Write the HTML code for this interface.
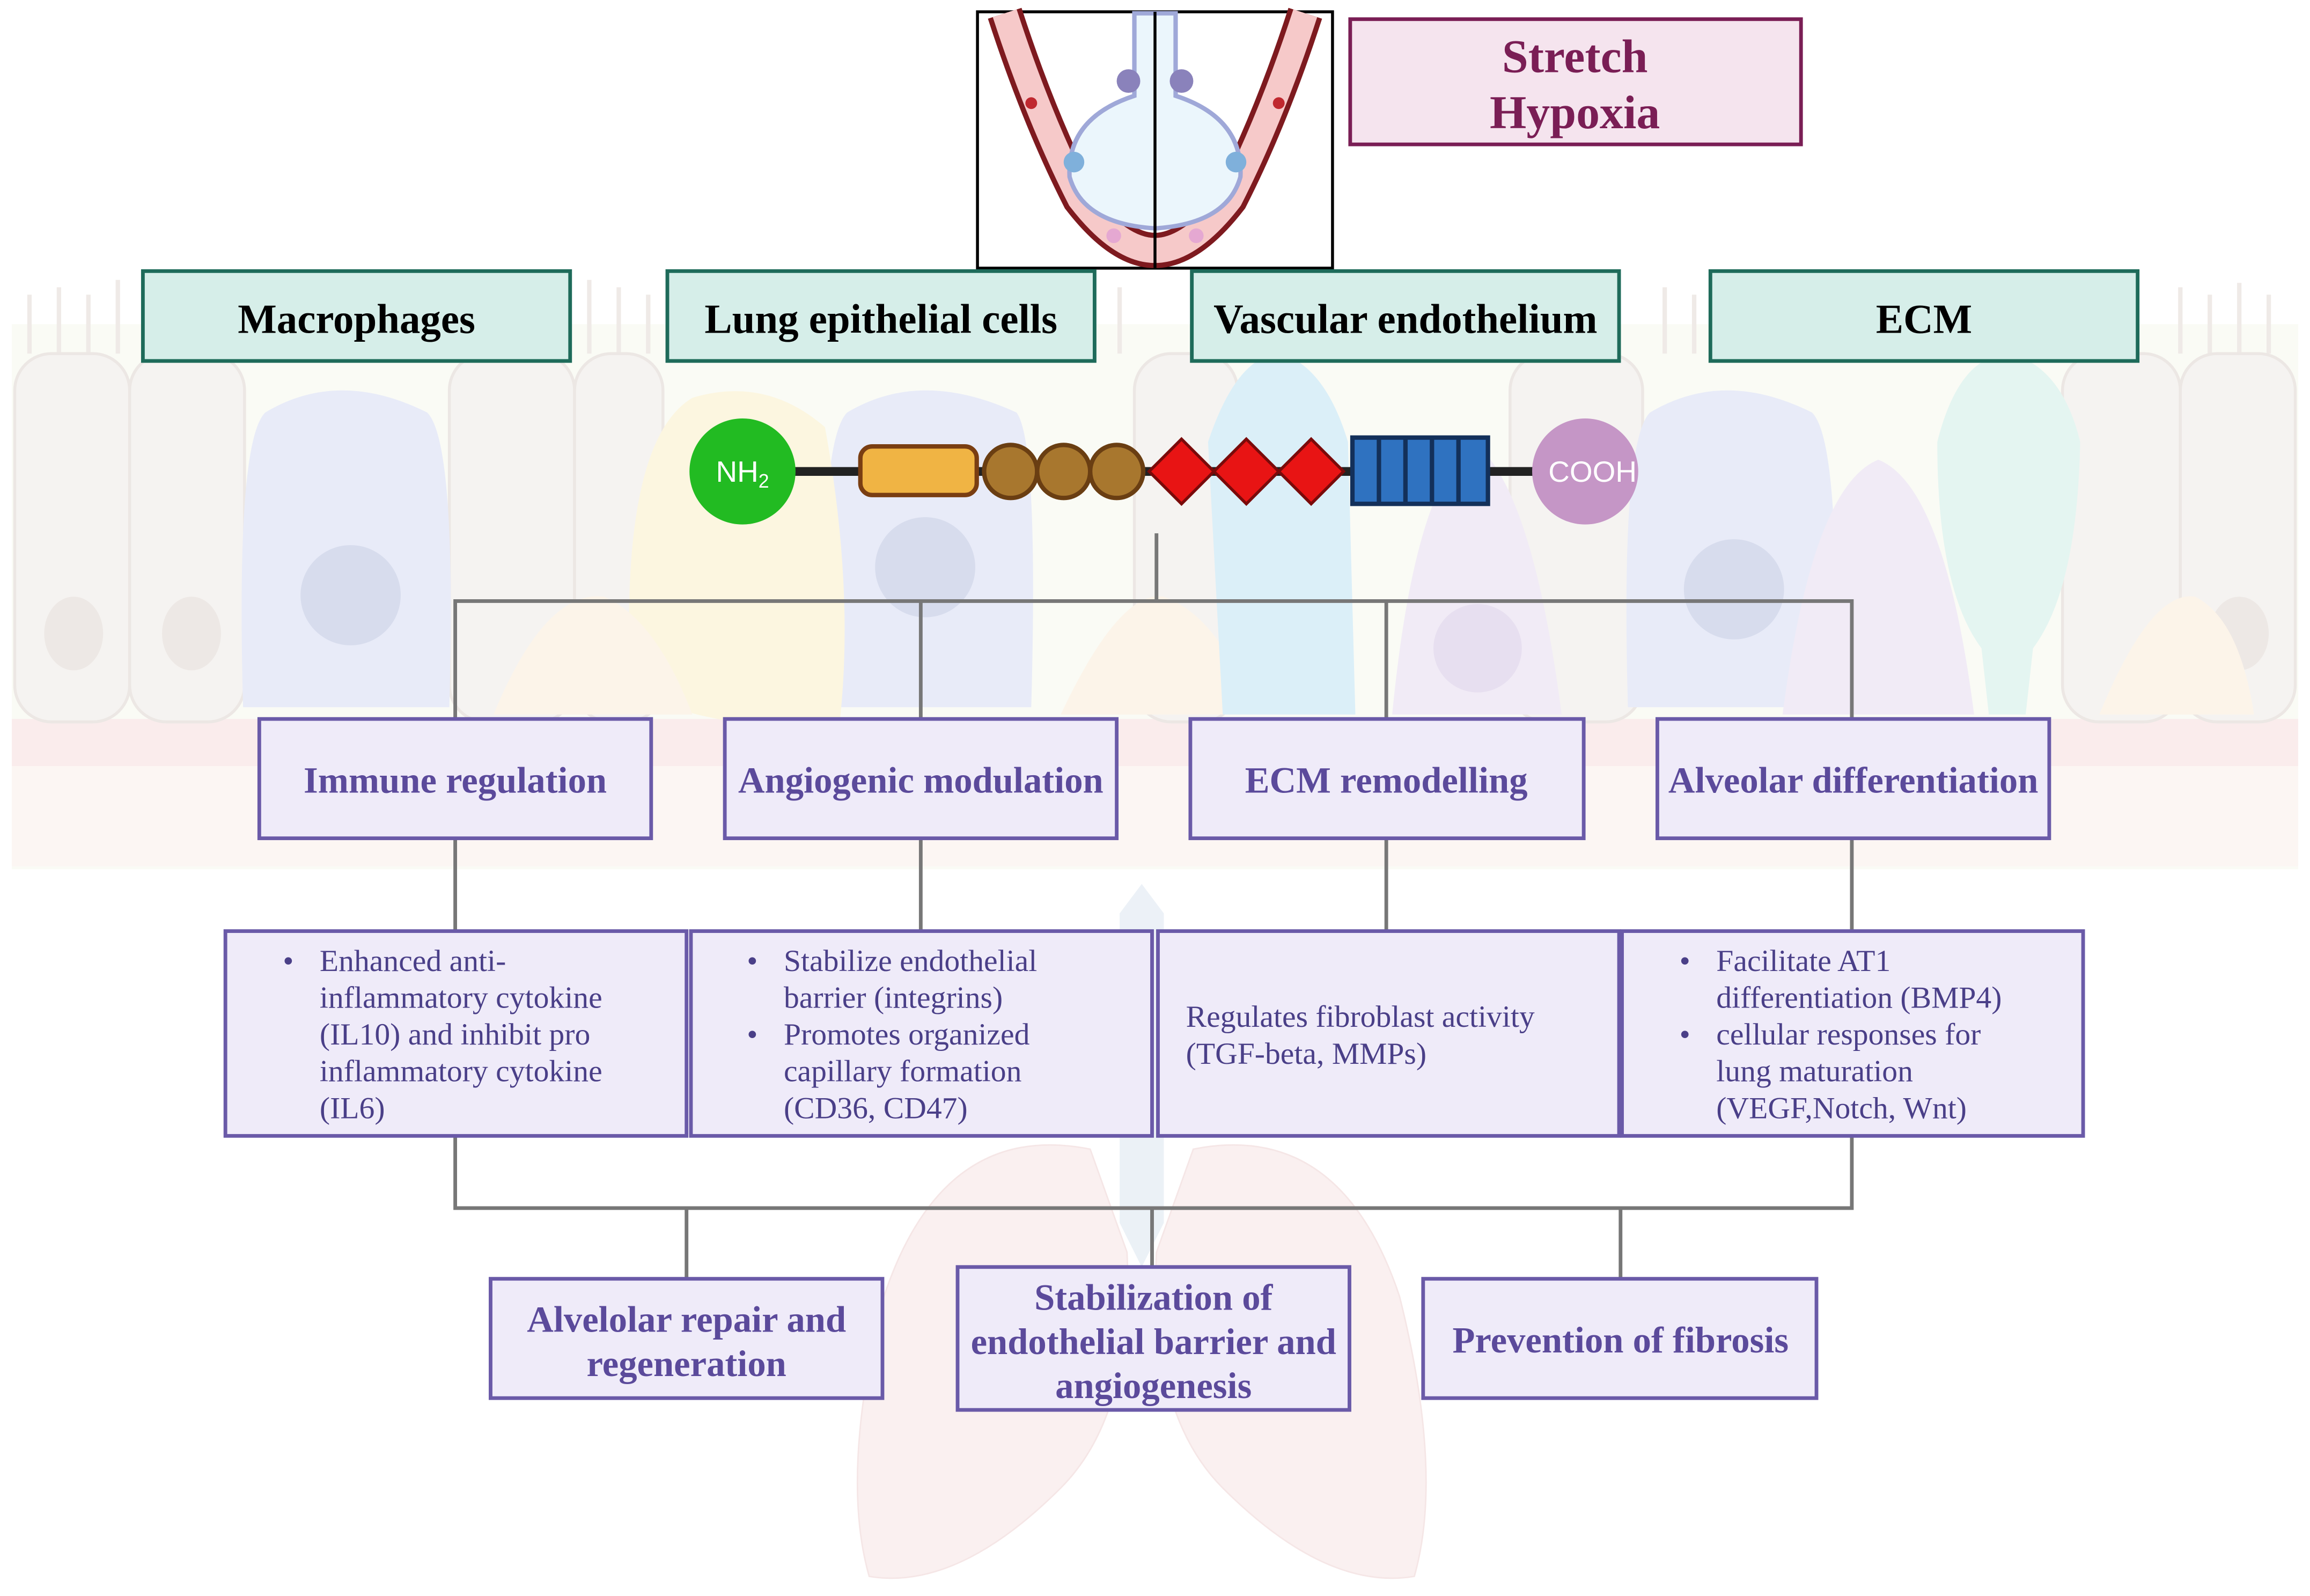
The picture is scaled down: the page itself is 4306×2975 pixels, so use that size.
<!DOCTYPE html>
<html><head><meta charset="utf-8"><style>
html,body{margin:0;padding:0;background:#fff}
svg{display:block}
text{font-family:"Liberation Serif",serif}
</style></head><body>
<svg width="4306" height="2975" viewBox="0 0 1568 1083.3" xmlns="http://www.w3.org/2000/svg">
<rect width="1568" height="1084" fill="#fff"/>
<g opacity="0.55">
<rect x="8" y="220" width="1552" height="370" fill="#f6f8ee"/>
<rect x="8" y="488" width="1552" height="32" fill="#f7dede"/>
<rect x="8" y="520" width="1552" height="68" fill="#fbf0ea"/>
<g stroke="#e2dad4" stroke-width="3" fill="none">
<path d="M20 240v-40M40 240v-45M60 240v-40M80 240v-50M110 240v-45M130 240v-40M400 240v-50M420 240v-45M440 240v-40M1130 240v-45M1150 240v-40M1480 240v-45M1500 240v-40M1520 240v-48M1540 240v-40M620 240v-45M640 240v-40M680 240v-48M700 240v-40M740 240v-40M760 240v-45M1020 240v-40M1060 240v-45"/>
</g>
<g fill="#eeeae6" stroke="#ddd5cf" stroke-width="2">
<rect x="10" y="240" width="78" height="250" rx="25"/>
<rect x="88" y="240" width="78" height="250" rx="25"/>
<rect x="305" y="240" width="85" height="250" rx="25"/>
<rect x="390" y="240" width="60" height="250" rx="25"/>
<rect x="770" y="240" width="70" height="250" rx="25"/>
<rect x="1025" y="240" width="90" height="250" rx="25"/>
<rect x="1400" y="240" width="80" height="250" rx="25"/>
<rect x="1480" y="240" width="78" height="250" rx="25"/>
</g>
<g fill="#e0d6d0"><ellipse cx="50" cy="430" rx="20" ry="25"/><ellipse cx="130" cy="430" rx="20" ry="25"/><ellipse cx="1520" cy="430" rx="20" ry="25"/></g>
<path d="M165 480 Q160 300 180 280 Q230 250 290 280 Q310 300 305 480Z" fill="#d6dcf3"/>
<circle cx="238" cy="404" r="34" fill="#b8c0e0"/>
<path d="M1105 480 Q1100 300 1120 280 Q1170 250 1230 280 Q1250 300 1245 480Z" fill="#d6dcf3"/>
<circle cx="1177" cy="400" r="34" fill="#b8c0e0"/>
<path d="M560 480 Q555 300 575 280 Q625 250 690 280 Q705 300 700 480Z" fill="#d6dcf3"/>
<circle cx="628" cy="385" r="34" fill="#b8c0e0"/>
<path d="M428 470 Q420 300 470 270 Q520 255 560 290 Q580 400 570 490 Q500 500 428 470Z" fill="#fbf0c8"/>
<path d="M335 485 Q370 400 410 405 Q445 420 470 485Z" fill="#fbecd8"/>
<path d="M720 485 Q760 400 790 405 Q830 420 850 485Z" fill="#fbecd8"/>
<path d="M1425 485 Q1460 400 1490 405 Q1520 420 1530 485Z" fill="#fbecd8"/>
<path d="M945 485 Q960 330 1000 300 Q1040 330 1060 485Z" fill="#e6dcef"/>
<circle cx="1003" cy="440" r="30" fill="#d4c6e4"/>
<path d="M1210 485 Q1230 330 1275 312 Q1320 330 1340 485Z" fill="#e6dcef"/>
<path d="M820 300 Q840 240 870 240 Q900 250 915 300 L920 485 L830 485Z" fill="#bfe2f3"/>
<path d="M1315 300 Q1330 240 1365 240 Q1400 250 1412 300 Q1410 400 1380 440 L1375 485 L1350 485 L1345 440 Q1315 400 1315 300Z" fill="#cfeee6"/>
</g>
<g opacity="0.35">
<path d="M760 620 L775 600 L790 620 L790 830 L775 860 L760 830Z" fill="#c8d8e8"/>
<path d="M740 780 Q640 760 600 880 Q570 1000 590 1070 Q650 1080 720 1010 Q770 960 765 850Z" fill="#f2d6d6" stroke="#e4b8b8"/>
<path d="M810 780 Q910 760 950 880 Q980 1000 960 1070 Q900 1080 830 1010 Q780 960 785 850Z" fill="#f2d6d6" stroke="#e4b8b8"/>
</g>
<rect x="663.5" y="8" width="241" height="174" fill="#fff" stroke="#000" stroke-width="2"/>
<path d="M682 9 Q705 80 733 135 Q760 170 784 170 Q808 170 835 135 Q863 80 886 9" fill="none" stroke="#7e1a1f" stroke-width="24"/>
<path d="M682 9 Q705 80 733 135 Q760 170 784 170 Q808 170 835 135 Q863 80 886 9" fill="none" stroke="#f6c9c9" stroke-width="17"/>
<path d="M770 9 L770 65 Q724 80 726 120 Q735 152 784 155 Q833 152 842 120 Q844 80 798 65 L798 9Z" fill="#ebf6fc" stroke="#9fa8d8" stroke-width="3"/>
<circle cx="766" cy="55" r="8" fill="#8a82bb"/><circle cx="802" cy="55" r="8" fill="#8a82bb"/>
<circle cx="729" cy="110" r="7" fill="#7fb0db"/><circle cx="839" cy="110" r="7" fill="#7fb0db"/>
<circle cx="756" cy="160" r="5" fill="#e5a8d2"/><circle cx="812" cy="160" r="5" fill="#e5a8d2"/>
<circle cx="700" cy="70" r="4" fill="#c0282f"/><circle cx="868" cy="70" r="4" fill="#c0282f"/>
<line x1="784" y1="8" x2="784" y2="182" stroke="#000" stroke-width="2"/>
<rect x="916.5" y="13" width="306" height="85" fill="#f5e4ee" stroke="#7a1e55" stroke-width="2.5"/>
<text x="1069" y="49" font-size="32" font-weight="bold" fill="#7a1e55" text-anchor="middle">Stretch</text>
<text x="1069" y="87" font-size="32" font-weight="bold" fill="#7a1e55" text-anchor="middle">Hypoxia</text>
<g fill="#d6eee9" stroke="#1e6b5a" stroke-width="2.5">
<rect x="97" y="184" width="290" height="61"/><rect x="453" y="184" width="290" height="61"/>
<rect x="809" y="184" width="290" height="61"/><rect x="1161" y="184" width="290" height="61"/>
</g>
<g font-size="28" font-weight="bold" fill="#000" text-anchor="middle">
<text x="242" y="226">Macrophages</text><text x="598" y="226">Lung epithelial cells</text>
<text x="954" y="226">Vascular endothelium</text><text x="1306" y="226">ECM</text>
</g>
<line x1="530" y1="320" x2="1050" y2="320" stroke="#222" stroke-width="6"/>
<circle cx="504" cy="320" r="36" fill="#22bb22"/>
<text x="504" y="327" font-size="20" fill="#fff" text-anchor="middle" style="font-family:'Liberation Sans',sans-serif">NH<tspan font-size="13" dy="4">2</tspan></text>
<rect x="584" y="303" width="79" height="33" rx="8" fill="#f0b444" stroke="#7a3e12" stroke-width="3"/>
<g fill="#a8772e" stroke="#6a3e12" stroke-width="3"><circle cx="686" cy="320" r="18"/><circle cx="722" cy="320" r="18"/><circle cx="758" cy="320" r="18"/></g>
<g fill="#e81414" stroke="#7a0a0a" stroke-width="2"><path d="M802 298l22 22-22 22-22-22z"/><path d="M846 298l22 22-22 22-22-22z"/><path d="M890 298l22 22-22 22-22-22z"/></g>
<rect x="918" y="297" width="92" height="45" fill="#2f72c0" stroke="#13305a" stroke-width="3"/>
<g stroke="#13305a" stroke-width="3"><line x1="936" y1="297" x2="936" y2="342"/><line x1="954" y1="297" x2="954" y2="342"/><line x1="972" y1="297" x2="972" y2="342"/><line x1="990" y1="297" x2="990" y2="342"/></g>
<circle cx="1076" cy="320" r="36" fill="#c596c6"/>
<text x="1081" y="327" font-size="20" fill="#fff" text-anchor="middle" style="font-family:'Liberation Sans',sans-serif">COOH</text>
<g stroke="#777" stroke-width="2.5" fill="none">
<path d="M785 362V408M309 488V408H1257V488M625 408V488M941 408V488"/>
<path d="M309 569V632M625 569V632M941 569V632M1257 569V632"/>
<path d="M309 771V820H1257V771M466 820V868M782 820V860M1100 820V868"/>
</g>
<g fill="#efebf9" stroke="#6a5aa8" stroke-width="2.5">
<rect x="176" y="488" width="266" height="81"/><rect x="492" y="488" width="266" height="81"/>
<rect x="808" y="488" width="267" height="81"/><rect x="1125" y="488" width="266" height="81"/>
<rect x="153" y="632" width="313" height="139"/><rect x="469" y="632" width="313" height="139"/>
<rect x="786" y="632" width="313" height="139"/><rect x="1101" y="632" width="313" height="139"/>
<rect x="333" y="868" width="266" height="81"/><rect x="650" y="860" width="266" height="97"/>
<rect x="966" y="868" width="267" height="81"/>
</g>
<g font-size="25" font-weight="bold" fill="#5b4a9b" text-anchor="middle">
<text x="309" y="538">Immune regulation</text><text x="625" y="538">Angiogenic modulation</text>
<text x="941" y="538">ECM remodelling</text><text x="1258" y="538">Alveolar differentiation</text>
<text x="466" y="904">Alvelolar repair and</text><text x="466" y="934">regeneration</text>
<text x="783" y="889">Stabilization of</text><text x="783" y="919">endothelial barrier and</text><text x="783" y="949">angiogenesis</text>
<text x="1100" y="918">Prevention of fibrosis</text>
</g>
<g font-size="21" fill="#4a3f88">
<text x="192" y="659">•</text>
<text x="217" y="659">Enhanced anti-</text><text x="217" y="684">inflammatory cytokine</text><text x="217" y="709">(IL10) and inhibit pro</text><text x="217" y="734">inflammatory cytokine</text><text x="217" y="759">(IL6)</text>
<text x="507" y="659">•</text><text x="532" y="659">Stabilize endothelial</text><text x="532" y="684">barrier (integrins)</text>
<text x="507" y="709">•</text><text x="532" y="709">Promotes organized</text><text x="532" y="734">capillary formation</text><text x="532" y="759">(CD36, CD47)</text>
<text x="805" y="697">Regulates fibroblast activity</text><text x="805" y="722">(TGF-beta, MMPs)</text>
<text x="1140" y="659">•</text><text x="1165" y="659">Facilitate AT1</text><text x="1165" y="684">differentiation (BMP4)</text>
<text x="1140" y="709">•</text><text x="1165" y="709">cellular responses for</text><text x="1165" y="734">lung maturation</text><text x="1165" y="759">(VEGF,Notch, Wnt)</text>
</g>
</svg>
</body></html>
